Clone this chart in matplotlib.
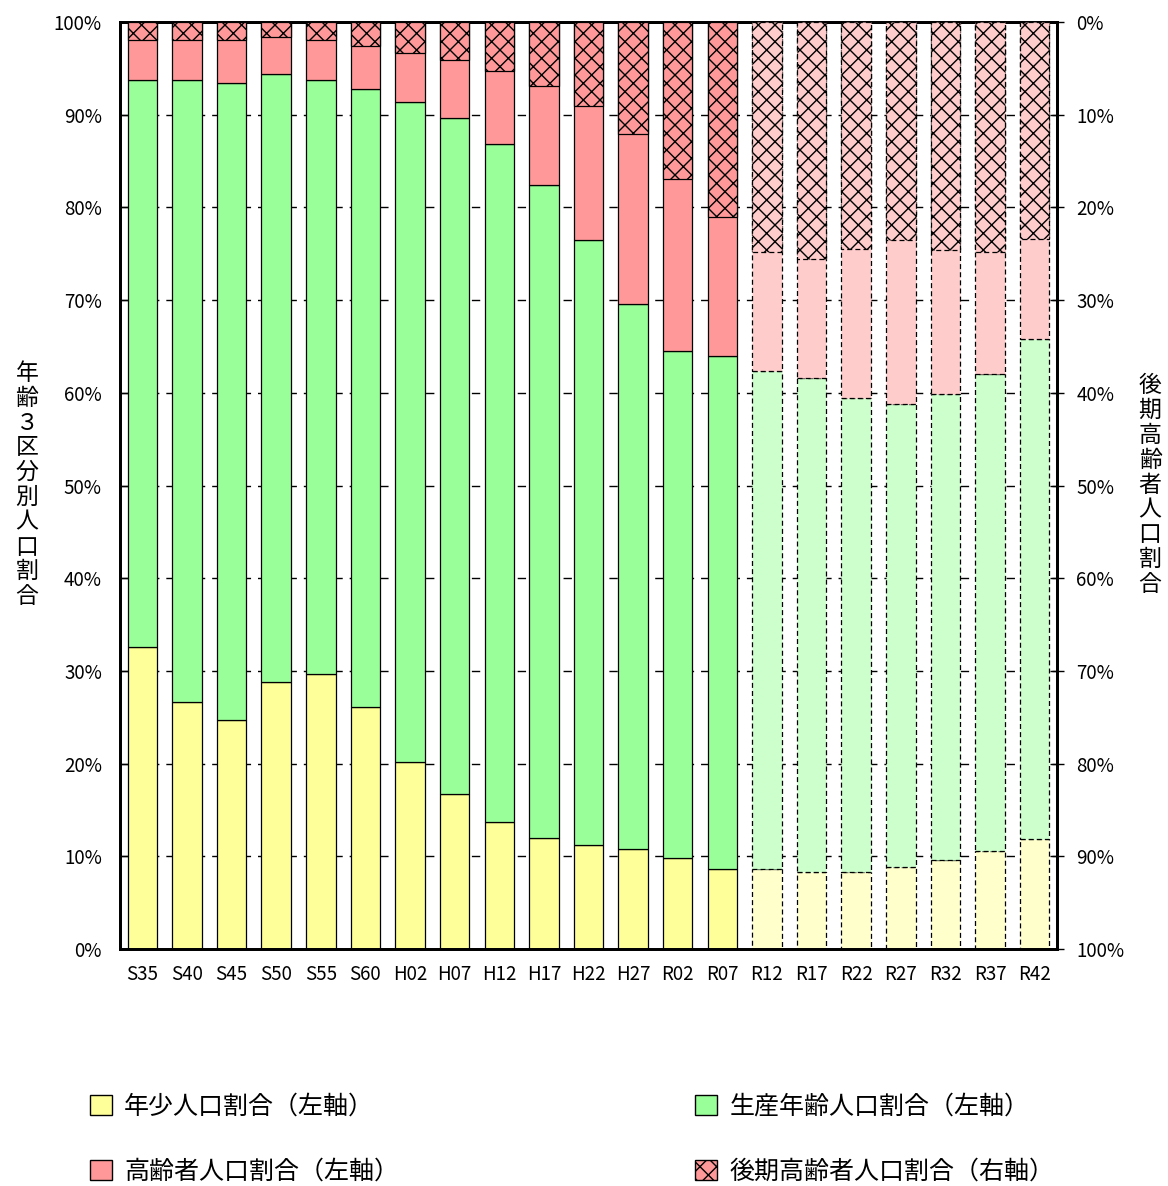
import numpy as np
import matplotlib
matplotlib.use('Agg')
import matplotlib.pyplot as plt
from matplotlib.patches import Patch

plt.rcParams['font.family'] = ['Noto Sans CJK JP', 'DejaVu Sans']
plt.rcParams['hatch.linewidth'] = 1.0

categories = ['S35', 'S40', 'S45', 'S50', 'S55', 'S60', 'H02', 'H07', 'H12', 'H17',
              'H22', 'H27', 'R02', 'R07', 'R12', 'R17', 'R22', 'R27', 'R32', 'R37', 'R42']
young = [32.6, 26.6, 24.7, 28.8, 29.7, 26.1, 20.2, 16.7, 13.7, 12.0,
         11.2, 10.8, 9.8, 8.6, 8.6, 8.3, 8.3, 8.8, 9.6, 10.6, 11.9]
working = [61.1, 67.1, 68.7, 65.6, 64.0, 66.7, 71.2, 72.9, 73.1, 70.4,
           65.3, 58.8, 54.7, 55.4, 53.8, 53.3, 51.1, 50.0, 50.3, 51.4, 53.9]
elderly = [6.3, 6.3, 6.6, 5.6, 6.3, 7.2, 8.6, 10.4, 13.2, 17.6,
           23.5, 30.4, 35.5, 36.0, 37.6, 38.4, 40.6, 41.2, 40.1, 38.0, 34.2]
late_elderly = [1.9, 1.9, 1.9, 1.6, 1.9, 2.6, 3.3, 4.1, 5.3, 6.9,
                9.1, 12.1, 16.9, 21.0, 24.8, 25.6, 24.5, 23.5, 24.6, 24.8, 23.4]
n_actual = 14  # S35..R07 are actual values, R12.. are projections

left_ticks = [0, 10, 20, 30, 40, 50, 60, 70, 80, 90, 100]
tick_labels = [f'{t}%' for t in left_ticks]

col_young = ['#FFFF99', '#FFFFCC']
col_work = ['#99FF99', '#CCFFCC']
col_old = ['#FF9999', '#FFCCCC']

fig = plt.figure(figsize=(11.68, 11.86), dpi=100)
ax = fig.add_axes([120/1168, 1-949/1186, (1057-120)/1168, (949-22)/1186])

x = np.arange(len(categories))
young_a = np.array(young)
work_a = np.array(working)
old_a = np.array(elderly)
late_a = np.array(late_elderly)

w = 0.66
lw = 0.9
for i in range(len(categories)):
    proj = 1 if i >= n_actual else 0
    ls = (0, (4, 2.5)) if proj else '-'
    ax.bar(x[i], young_a[i], w, color=col_young[proj], edgecolor='black', linewidth=lw, linestyle=ls, zorder=2)
    ax.bar(x[i], work_a[i], w, bottom=young_a[i], color=col_work[proj], edgecolor='black', linewidth=lw, linestyle=ls, zorder=2)
    ax.bar(x[i], old_a[i], w, bottom=young_a[i] + work_a[i], color=col_old[proj], edgecolor='black', linewidth=lw, linestyle=ls, zorder=2)

ax.set_xlim(-0.5, len(categories) - 0.5)
ax.set_ylim(0, 100)
ax.set_yticks(left_ticks)
ax.set_yticklabels(tick_labels)
ax.set_xticks(x)
ax.set_xticklabels(categories)
ax.set_axisbelow(True)
ax.yaxis.grid(True, color='black', linestyle=(0, (6, 5)), linewidth=1.0)
ax.tick_params(axis='y', direction='in', length=6, width=1, pad=13, labelsize=13.5)
ax.tick_params(axis='x', length=0, pad=11, labelsize=13.5)
for s in ax.spines.values():
    s.set_linewidth(2)

ax2 = ax.twinx()
for i in range(len(categories)):
    proj = 1 if i >= n_actual else 0
    ls = (0, (4, 2.5)) if proj else '-'
    ax2.bar(x[i], late_a[i], w, bottom=0, color=col_old[proj], edgecolor='black', linewidth=lw,
            linestyle=ls, hatch='xx', zorder=3)
ax2.set_ylim(100, 0)
ax2.set_yticks(left_ticks)
ax2.set_yticklabels(tick_labels)
ax2.tick_params(axis='y', direction='inout', length=10, width=1, pad=9, labelsize=13.5)
for s in ax2.spines.values():
    s.set_linewidth(2)

fig.text(27/1168, 1-485/1186, '\n'.join('年齢３区分別人口割合'), ha='center', va='center',
         fontsize=16.5, linespacing=1.1)
fig.text(1150/1168, 1-485/1186, '\n'.join('後期高齢者人口割合'), ha='center', va='center',
         fontsize=16.5, linespacing=1.1)

h_young = Patch(facecolor=col_young[0], edgecolor='black', linewidth=1)
h_work = Patch(facecolor=col_work[0], edgecolor='black', linewidth=1)
h_old = Patch(facecolor=col_old[0], edgecolor='black', linewidth=1)
h_late = Patch(facecolor=col_old[0], edgecolor='black', linewidth=1, hatch='xx')

lkw = dict(frameon=False, fontsize=18, handlelength=0.87, handleheight=0.87, handletextpad=0.5,
           labelspacing=1.55, borderpad=0, borderaxespad=0, loc='upper left')
fig.legend([h_young, h_old], ['年少人口割合（左軸）', '高齢者人口割合（左軸）'],
           bbox_to_anchor=(90/1168, 1-1094/1186), **lkw)
fig.legend([h_work, h_late], ['生産年齢人口割合（左軸）', '後期高齢者人口割合（右軸）'],
           bbox_to_anchor=(695/1168, 1-1094/1186), **lkw)

fig.savefig('out.png', dpi=100)
